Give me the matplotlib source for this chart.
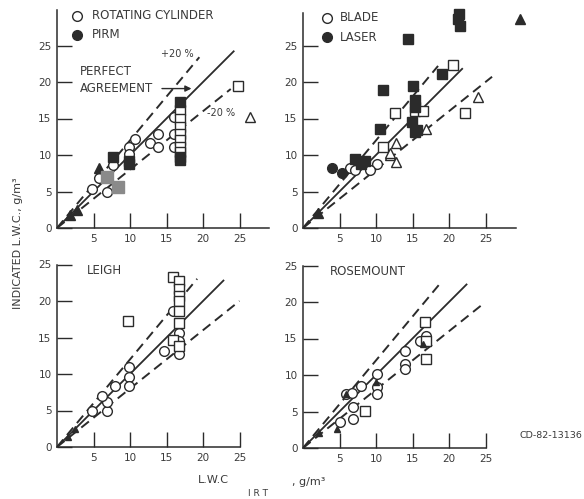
"""
Indicated vs. IRT liquid water content for several instruments (4 panels).
"""

import matplotlib
matplotlib.use("Agg")
import matplotlib.pyplot as plt

W, H = 584, 499
PX = 7.3  # pixels per g/m^3 unit
INK = "#2b2b2b"
TXT = "#3a3a3a"
LBL = 8.5  # panel label font size

# ---- data ----
# top-left: rotating cylinder (open) and PIRM (filled)
rc_circ_x = [4.8, 5.7, 6.8, 7.7, 9.8, 10.7, 9.9, 12.8, 13.8, 13.9, 16.0, 16.0, 16.0]
rc_circ_y = [5.4, 6.8, 5.0, 8.6, 11.1, 12.2, 10.1, 11.6, 12.9, 11.1, 15.2, 12.9, 11.1]
rc_sq_x = [16.8, 16.8, 16.8, 16.8, 16.8, 16.8, 16.8, 24.8]
rc_sq_y = [16.1, 15.0, 13.8, 12.9, 12.0, 11.1, 10.4, 19.5]
rc_tri_x = [26.5]
rc_tri_y = [15.2]
pirm_sq_x = [16.9, 16.8, 16.8, 7.7, 9.8, 9.8]
pirm_sq_y = [17.3, 9.7, 9.3, 9.7, 9.2, 8.8]
pirm_tri_x = [5.7, 2.7, 1.8]
pirm_tri_y = [8.2, 2.5, 1.8]
pirm_gray_x = [8.4, 6.8]
pirm_gray_y = [5.6, 7.0]

# top-right: blade (open) and laser (filled)
blade_sq_x = [20.6, 22.2, 12.6, 15.3, 16.4, 11.0]
blade_sq_y = [22.3, 15.7, 15.7, 16.0, 16.0, 11.1]
blade_tri_x = [24.0, 16.9, 11.9, 12.8, 12.8, 11.9]
blade_tri_y = [17.9, 13.6, 10.0, 9.1, 11.6, 10.3]
blade_circ_x = [10.1, 6.4, 7.1, 9.2]
blade_circ_y = [8.8, 8.2, 7.9, 7.9]
laser_sq_x = [21.3, 21.5, 21.4, 14.4, 19.0, 10.9, 15.1, 15.3, 15.3, 10.5, 14.9, 15.6, 15.4,
              7.1, 8.0, 8.5]
laser_sq_y = [28.6, 27.7, 29.3, 25.9, 21.1, 18.9, 19.5, 17.5, 16.6, 13.6, 14.5, 13.4, 13.1,
              9.5, 8.8, 9.2]
laser_circ_x = [4.0, 5.3]
laser_circ_y = [8.2, 7.5]
laser_tri_x = [29.7, 2.0]
laser_tri_y = [28.6, 2.0]

# bottom-left: Leigh
leigh_circ_x = [4.75, 6.8, 6.8, 7.9, 6.1, 9.8, 9.8, 9.8, 14.6, 16.7, 16.7, 16.7, 15.9]
leigh_circ_y = [5.0, 5.0, 6.2, 8.4, 7.0, 10.9, 9.6, 8.4, 13.2, 15.6, 14.5, 12.7, 18.6]
leigh_sq_x = [9.7, 15.9, 15.9, 16.7, 16.7, 16.7, 16.7, 16.7, 16.7, 16.7]
leigh_sq_y = [17.3, 23.3, 14.6, 22.7, 21.6, 20.7, 20.0, 18.6, 17.0, 13.8]
leigh_tri_x = [2.5, 1.5]
leigh_tri_y = [2.4, 1.4]

# bottom-right: Rosemount
rose_circ_x = [5.1, 6.9, 6.9, 5.9, 6.7, 8.0, 10.1, 10.1, 10.1, 14.0, 14.0, 14.0, 16.9, 16.0]
rose_circ_y = [3.6, 4.0, 5.6, 7.4, 7.6, 8.5, 10.1, 8.3, 7.4, 13.3, 11.5, 10.8, 15.4, 14.7]
rose_sq_x = [8.5, 16.7, 16.9, 16.9]
rose_sq_y = [5.1, 17.2, 14.6, 12.2]
rose_fill_x = [5.9, 4.6, 2.2, 16.5, 10.0]
rose_fill_y = [7.4, 2.6, 2.0, 14.2, 9.0]

TICKS = [0, 5, 10, 15, 20, 25]


def add_panel(x0, y0, xmax, ymax):
    rect = [x0 / W, (H - y0) / H, xmax * PX / W, ymax * PX / H]
    ax = fig.add_axes(rect)
    ax.set_xlim(0, xmax)
    ax.set_ylim(0, ymax)
    for s in ("top", "right"):
        ax.spines[s].set_visible(False)
    for s in ("left", "bottom"):
        ax.spines[s].set_color(INK)
        ax.spines[s].set_linewidth(1.1)
    ax.set_xticks(TICKS[1:])
    ax.set_yticks(TICKS)
    ax.tick_params(direction="in", length=11, width=1.0, color=INK,
                   labelsize=7.5, labelcolor=TXT, pad=4)
    ax.patch.set_alpha(0)
    return ax


def ref_lines(ax, x_solid, x_plus, x_minus):
    ax.plot([0, x_solid], [0, x_solid], color=INK, lw=1.3)
    ax.plot([0, x_plus], [0, 1.2 * x_plus], color=INK, lw=1.4, ls=(0, (5, 3)))
    ax.plot([0, x_minus], [0, 0.8 * x_minus], color=INK, lw=1.4, ls=(0, (5, 3)))


def pts(ax, x, y, marker, filled, color=INK, ms=7):
    ax.plot(x, y, ls="none", marker=marker, ms=ms, mew=1.0, mec=color,
            mfc=color if filled else "white", clip_on=False, zorder=3)


fig = plt.figure(figsize=(W / 100, H / 100), dpi=100)

# top-left
ax1 = add_panel(57, 228, 29.0, 29.8)
ref_lines(ax1, 24.2, 19.5, 23.8)
pts(ax1, rc_circ_x, rc_circ_y, "o", False)
pts(ax1, rc_sq_x, rc_sq_y, "s", False)
pts(ax1, rc_tri_x, rc_tri_y, "^", False)
pts(ax1, pirm_sq_x, pirm_sq_y, "s", True)
pts(ax1, pirm_tri_x, pirm_tri_y, "^", True)
pts(ax1, pirm_gray_x, pirm_gray_y, "s", True, color="#8a8a8a", ms=8)
pts(ax1, [2.75], [29.1], "o", False)
pts(ax1, [2.75], [26.5], "o", True)
ax1.text(4.8, 29.1, "ROTATING CYLINDER", fontsize=LBL, color=TXT, va="center")
ax1.text(4.8, 26.5, "PIRM", fontsize=LBL, color=TXT, va="center")
ax1.text(3.2, 21.4, "PERFECT", fontsize=LBL, color=TXT, va="center")
ax1.text(3.2, 19.1, "AGREEMENT", fontsize=LBL, color=TXT, va="center")
ax1.annotate("", xy=(18.8, 19.1), xytext=(14.0, 19.1),
             arrowprops=dict(arrowstyle="-|>", color=INK, lw=1.0, mutation_scale=9))
ax1.text(14.2, 23.9, "+20 %", fontsize=7, color=TXT, va="center")
ax1.text(20.6, 15.7, "-20 %", fontsize=7, color=TXT, va="center")

# top-right
ax2 = add_panel(303, 228, 29.2, 29.4)
ref_lines(ax2, 21.8, 18.5, 25.9)
pts(ax2, blade_sq_x, blade_sq_y, "s", False)
pts(ax2, blade_tri_x, blade_tri_y, "^", False)
pts(ax2, blade_circ_x, blade_circ_y, "o", False)
pts(ax2, laser_sq_x, laser_sq_y, "s", True)
pts(ax2, laser_circ_x, laser_circ_y, "o", True)
pts(ax2, laser_tri_x, laser_tri_y, "^", True)
pts(ax2, [3.3], [28.8], "o", False)
pts(ax2, [3.3], [26.1], "o", True)
ax2.text(5.1, 28.8, "BLADE", fontsize=LBL, color=TXT, va="center")
ax2.text(5.1, 26.1, "LASER", fontsize=LBL, color=TXT, va="center")

# bottom-left
ax3 = add_panel(57, 447, 25, 25)
ref_lines(ax3, 22.8, 19.2, 25.0)
pts(ax3, leigh_circ_x, leigh_circ_y, "o", False)
pts(ax3, leigh_sq_x, leigh_sq_y, "s", False)
pts(ax3, leigh_tri_x, leigh_tri_y, "^", True, ms=4)
ax3.text(4.1, 24.2, "LEIGH", fontsize=LBL, color=TXT, va="center")

# bottom-right
ax4 = add_panel(303, 448, 25, 25)
ref_lines(ax4, 22.4, 18.8, 24.5)
pts(ax4, rose_circ_x, rose_circ_y, "o", False)
pts(ax4, rose_sq_x, rose_sq_y, "s", False)
pts(ax4, rose_fill_x, rose_fill_y, "^", True, ms=5)
ax4.text(3.7, 24.2, "ROSEMOUNT", fontsize=LBL, color=TXT, va="center")

# figure labels
fig.text(18 / W, 1 - 243 / H, "INDICATED L.W.C., g/m\u00b3", rotation=90,
         fontsize=8, color=TXT, ha="center", va="center")
fig.text(198 / W, 1 - 480 / H, "L.W.C", fontsize=8, color=TXT, va="center")
fig.text(248 / W, 1 - 493 / H, "I R T", fontsize=6.5, color=TXT, va="center")
fig.text(292 / W, 1 - 482 / H, ", g/m\u00b3", fontsize=8, color=TXT, va="center")
fig.text(582 / W, 1 - 436 / H, "CD-82-13136", fontsize=6.8, color=TXT,
         ha="right", va="center")

fig.savefig("out.png", dpi=100)
